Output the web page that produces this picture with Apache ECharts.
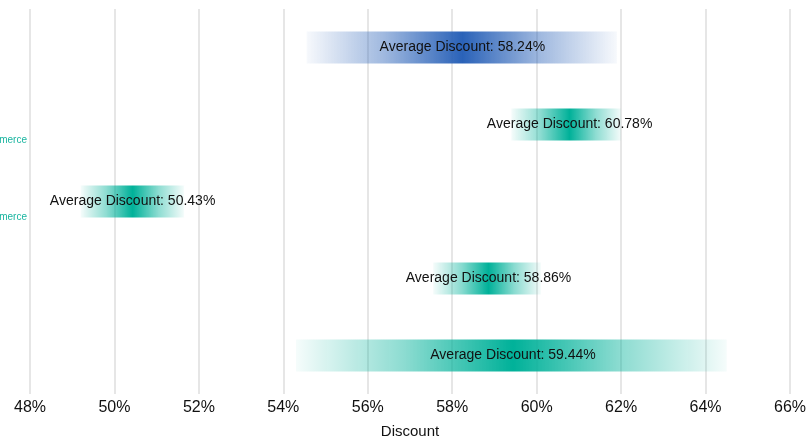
<!DOCTYPE html>
<html>
<head>
<meta charset="utf-8">
<script src="https://cdn.jsdelivr.net/npm/echarts@6/dist/echarts.min.js"></script>
<style>
  html, body { margin: 0; padding: 0; background: #fff; }
  #chart { width: 811px; height: 440px; }
</style>
</head>
<body>
<div id="chart"></div>
<script>
// rows, top to bottom
var categories = ['Row A', 'Row B', 'Row C', 'Row D', 'Row E'];
var tickLabels = ['', 'E-commerce', 'E-commerce', '', ''];
var minDiscount = [54.55, 59.4, 49.2, 57.55, 54.3];
var maxDiscount = [61.9, 62.0, 51.65, 60.1, 64.5];
var avgDiscount = [58.24, 60.78, 50.43, 58.86, 59.44];
var barColors = ['#2a62b8', '#00b199', '#00b199', '#00b199', '#00b199'];
var xTicks = [48, 50, 52, 54, 56, 58, 60, 62, 64, 66];

function fade(hex, a) {
    var r = parseInt(hex.substr(1, 2), 16), g = parseInt(hex.substr(3, 2), 16), b = parseInt(hex.substr(5, 2), 16);
    return 'rgba(' + r + ',' + g + ',' + b + ',' + a + ')';
}

var rows = [];
for (var i = 0; i < categories.length; i++) {
    rows.push([i, minDiscount[i], maxDiscount[i], avgDiscount[i]]);
}

var mychart = echarts.init(document.getElementById('chart'));
var option = {
    animation: false,
    grid: { left: 30, right: 21, top: 9, bottom: 46, containLabel: false, outerBoundsMode: 'none' },
    xAxis: {
        type: 'value',
        min: xTicks[0],
        max: xTicks[xTicks.length - 1],
        interval: 2,
        name: 'Discount',
        nameLocation: 'middle',
        nameGap: 30,
        nameTextStyle: { color: '#111', fontSize: 15, fontFamily: 'Liberation Sans' },
        axisLine: { show: false },
        axisTick: { show: false },
        axisLabel: {
            formatter: '{value}%',
            color: '#111',
            fontSize: 16,
            fontFamily: 'Liberation Sans',
            margin: 6
        },
        splitLine: { show: true, lineStyle: { color: '#dedede', width: 1.5 } }
    },
    yAxis: {
        type: 'category',
        data: categories,
        inverse: true,
        axisLine: { show: false },
        axisTick: { show: false },
        splitLine: { show: false },
        axisLabel: {
            formatter: function (v, idx) { return tickLabels[idx] ? '{a|' + tickLabels[idx] + '}' : ''; },
            color: '#1ab5a0',
            fontSize: 10,
            fontFamily: 'Liberation Sans',
            margin: 3,
            rich: { a: { color: '#1ab5a0', fontSize: 10, fontFamily: 'Liberation Sans', padding: [32, 0, 0, 0] } }
        }
    },
    series: [{
        type: 'custom',
        data: rows,
        encode: { x: [1, 2, 3], y: 0 },
        renderItem: function (params, api) {
            var idx = api.value(0);
            var lo = api.value(1), hi = api.value(2), avg = api.value(3);
            var p0 = api.coord([lo, idx]);
            var p1 = api.coord([hi, idx]);
            var pa = api.coord([avg, idx]);
            var h = 32;
            var c = barColors[idx];
            var mid = (avg - lo) / (hi - lo);
            return {
                type: 'group',
                children: [{
                    type: 'rect',
                    shape: { x: p0[0], y: p0[1] - h / 2, width: p1[0] - p0[0], height: h },
                    style: {
                        fill: new echarts.graphic.LinearGradient(0, 0, 1, 0, [
                            { offset: 0, color: fade(c, 0.04) },
                            { offset: mid * 0.5, color: fade(c, 0.45) },
                            { offset: mid, color: fade(c, 1) },
                            { offset: mid + (1 - mid) * 0.5, color: fade(c, 0.45) },
                            { offset: 1, color: fade(c, 0.04) }
                        ])
                    }
                }, {
                    type: 'text',
                    style: {
                        x: pa[0],
                        y: pa[1],
                        text: 'Average Discount: ' + avg.toFixed(2) + '%',
                        align: 'center',
                        verticalAlign: 'middle',
                        fill: '#111',
                        fontSize: 14,
                        fontFamily: 'Liberation Sans'
                    }
                }]
            };
        }
    }]
};
mychart.setOption(option);
</script>
</body>
</html>
